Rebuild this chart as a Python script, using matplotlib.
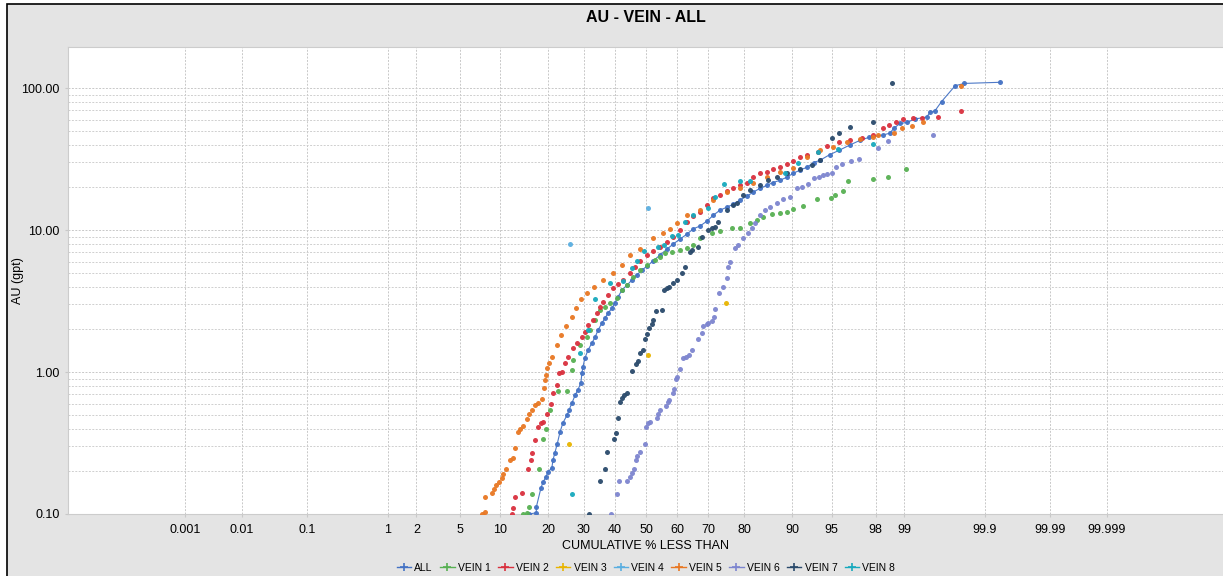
import numpy as np
import matplotlib.pyplot as plt
from matplotlib.lines import Line2D
from matplotlib.patches import Rectangle
from statistics import NormalDist

# ---- data (cumulative % less than, AU gpt) ----
all_pct = [15.6, 17.2, 17.2, 18.3, 18.8, 19.5, 20.0, 21.0, 21.3, 21.8,
           22.4, 23.2, 24.0, 25.2, 25.7, 26.6, 27.5, 28.3, 29.2, 29.5, 29.8,
           30.4, 31.4, 32.6, 33.6, 34.6, 35.8, 36.8, 37.8, 39.1, 40.0,
           41.0, 42.4, 44.0, 45.6, 47.2, 48.8, 50.3, 52.1, 54.3, 56.6,
           58.6, 60.9, 63.2, 65.2, 67.4, 69.6, 71.4, 73.4, 75.4, 77.1,
           79.0, 80.8, 82.2, 83.8, 85.3, 86.5, 87.9, 89.1, 90.1, 91.2,
           92.2, 93.0, 93.8, 94.8, 95.7, 96.5, 97.2, 97.7, 98.3, 98.57,
           98.7, 98.88, 99.06, 99.23, 99.44, 99.49, 99.55, 99.63, 99.75, 99.81,
           99.94]
all_au = [0.10, 0.102, 0.112, 0.153, 0.168, 0.182, 0.198, 0.211, 0.24, 0.27,
          0.31, 0.38, 0.44, 0.50, 0.54, 0.61, 0.69, 0.75, 0.84, 0.98, 1.08,
          1.25, 1.43, 1.60, 1.76, 1.98, 2.21, 2.40, 2.60, 2.82, 3.06,
          3.37, 3.78, 4.10, 4.44, 4.82, 5.23, 5.58, 6.05, 6.66, 7.33,
          7.96, 8.64, 9.38, 10.2, 10.7, 11.6, 12.7, 13.8, 14.5, 15.2,
          16.3, 17.4, 18.5, 19.7, 20.7, 21.6, 22.5, 23.6, 25.1, 26.5,
          27.8, 29.9, 31.1, 34.0, 36.6, 39.7, 43.0, 45.1, 46.7, 48.2,
          52.2, 56.4, 57.3, 60.6, 62.6, 67.7, 68.8, 80.5, 104, 108,
          110]

v1_pct = [14.3, 15.2, 15.6, 16.3, 17.9, 18.8, 19.5, 20.5, 22.7, 25.2,
          26.6, 26.9, 28.9, 31.1, 32.0, 33.6, 35.2, 36.8, 38.4, 40.7,
          42.4, 44.0, 45.9, 48.2, 50.3, 52.7, 54.3, 55.9, 58.2, 60.9,
          63.2, 65.2, 67.4, 71.1, 73.4, 76.8, 79.0, 81.5, 83.1, 84.4,
          86.3, 87.9, 89.1, 90.1, 91.6, 93.4, 94.9, 95.3, 96.0, 96.4,
          97.9, 98.5, 99.04]
v1_au = [0.10, 0.102, 0.112, 0.139, 0.207, 0.34, 0.40, 0.54, 0.735, 0.735,
         1.03, 1.21, 1.55, 1.76, 1.98, 2.32, 2.73, 2.87, 3.06, 3.32,
         3.78, 4.10, 4.66, 5.23, 5.67, 6.15, 6.45, 6.87, 6.98, 7.23,
         7.47, 7.84, 8.8, 9.5, 9.8, 10.3, 10.4, 11.2, 11.8, 12.3,
         13.0, 13.2, 13.4, 14.0, 14.7, 16.5, 16.8, 17.7, 18.8, 22.1,
         22.8, 23.6, 26.9]

v2_pct = [12.2, 12.4, 12.7, 14.1, 15.4, 16.1, 16.3, 17.0, 17.6, 18.3,
          18.8, 19.8, 20.8, 21.3, 22.4, 22.9, 23.8, 24.6, 25.4, 26.8,
          28.0, 29.5, 30.4, 31.4, 33.0, 34.2, 35.2, 36.2, 37.8, 39.4,
          41.0, 42.7, 45.0, 46.6, 48.2, 50.3, 52.1, 54.3, 56.6, 58.6,
          60.9, 63.2, 65.2, 67.4, 69.6, 71.4, 73.4, 75.4, 77.1, 79.0,
          80.8, 82.2, 83.8, 85.3, 86.5, 87.9, 89.1, 90.1, 91.2, 92.2,
          93.5, 94.5, 95.7, 96.5, 97.3, 97.9, 98.3, 98.53, 98.76, 98.96,
          99.19, 99.36, 99.59, 99.79]
v2_au = [0.10, 0.11, 0.132, 0.141, 0.207, 0.24, 0.27, 0.33, 0.41, 0.44,
         0.445, 0.51, 0.60, 0.71, 0.81, 0.98, 1.0, 1.16, 1.28, 1.48,
         1.6, 1.76, 1.91, 2.14, 2.32, 2.60, 2.87, 3.11, 3.49, 3.9,
         4.17, 4.44, 4.98, 5.49, 6.05, 6.66, 7.1, 7.6, 8.2, 8.9,
         10.0, 11.4, 12.5, 13.4, 15.0, 16.8, 17.7, 18.8, 19.7, 20.7,
         21.6, 23.6, 25.1, 25.5, 26.9, 27.8, 29.3, 30.6, 32.5, 33.6,
         35.4, 39.1, 41.5, 43.0, 44.4, 46.7, 52.2, 54.9, 57.5, 60.6,
         61.5, 61.5, 62.6, 69]

v3_pct = [25.7, 50.7, 75.1]
v3_au = [0.31, 1.32, 3.06]

v4_pct = [26.0, 50.7]
v4_au = [8.0, 14.3]

v5_pct = [7.45, 7.8, 7.9, 8.8, 9.2, 9.5, 9.9, 10.4, 10.6, 11.1,
          11.8, 12.4, 12.7, 13.3, 13.7, 14.3, 15.2, 15.6, 16.3, 17.0,
          17.6, 18.6, 19.1, 19.3, 19.5, 19.8, 20.3, 21.0, 22.4, 23.5,
          24.9, 26.6, 27.7, 29.2, 31.0, 33.3, 36.2, 39.4, 42.4, 45.0,
          48.2, 52.1, 55.3, 57.6, 59.9, 63.2, 67.4, 71.4, 75.4, 79.0,
          82.2, 85.3, 87.9, 90.1, 92.2, 93.8, 95.1, 96.3, 97.2, 97.9,
          98.1, 98.7, 98.93, 99.17, 99.38, 99.79]
v5_au = [0.10, 0.103, 0.132, 0.141, 0.15, 0.16, 0.168, 0.18, 0.19, 0.207,
         0.24, 0.25, 0.29, 0.38, 0.40, 0.42, 0.47, 0.51, 0.54, 0.59,
         0.61, 0.65, 0.77, 0.88, 0.95, 1.07, 1.16, 1.28, 1.55, 1.82,
         2.11, 2.44, 2.82, 3.26, 3.6, 3.97, 4.44, 4.98, 5.67, 6.66,
         7.4, 8.8, 9.5, 10.2, 11.2, 12.7, 13.8, 16.3, 18.5, 19.7,
         21.6, 23.6, 25.5, 27.6, 32.5, 36.6, 38.3, 41.5, 43.7, 45.1,
         46.7, 48.2, 52.2, 54.3, 57.5, 104]

v6_pct = [38.7, 40.7, 41.4, 44.0, 45.0, 45.6, 46.3, 46.9, 47.2, 48.2,
          49.8, 50.1, 50.7, 51.2, 53.4, 53.7, 54.3, 56.3, 56.9, 57.3,
          58.6, 58.9, 59.6, 59.9, 60.9, 61.9, 62.9, 63.9, 64.8, 66.8,
          68.0, 68.3, 69.6, 69.9, 71.1, 71.7, 72.0, 73.1, 74.3, 75.4,
          75.7, 76.3, 77.7, 78.5, 79.8, 81.0, 82.0, 82.7, 83.8, 84.9,
          85.9, 87.3, 88.4, 89.6, 90.7, 91.5, 92.3, 93.0, 93.6, 94.1,
          94.5, 95.0, 95.4, 95.9, 96.6, 97.1, 98.1, 98.5, 99.53]
v6_au = [0.10, 0.139, 0.171, 0.171, 0.182, 0.194, 0.207, 0.24, 0.256, 0.273,
         0.31, 0.41, 0.44, 0.445, 0.475, 0.51, 0.54, 0.58, 0.62, 0.635,
         0.71, 0.76, 0.89, 0.92, 1.05, 1.25, 1.28, 1.32, 1.43, 1.71,
         1.88, 2.11, 2.18, 2.21, 2.28, 2.44, 2.77, 3.6, 3.97, 4.59,
         5.49, 5.96, 7.47, 7.84, 8.8, 9.5, 10.3, 11.2, 12.7, 13.8,
         14.5, 15.5, 16.5, 17.0, 19.7, 20.0, 21.3, 23.2, 23.6, 24.4,
         24.8, 25.1, 27.8, 29.3, 30.6, 31.6, 37.8, 42.3, 46.7]

v7_pct = [31.7, 35.2, 36.8, 37.5, 39.7, 40.4, 41.0, 41.7, 42.4, 43.0,
          44.0, 45.6, 46.9, 47.6, 48.2, 49.2, 49.8, 50.3, 50.9, 51.8,
          52.1, 53.1, 55.0, 55.6, 56.6, 57.3, 58.6, 59.9, 61.5, 62.6,
          64.2, 64.8, 66.8, 68.0, 69.9, 71.1, 72.0, 72.8, 75.4, 77.1,
          78.2, 79.8, 81.5, 83.8, 85.5, 87.3, 89.1, 91.2, 92.8, 93.8,
          95.0, 95.7, 96.5, 97.9, 98.64]
v7_au = [0.10, 0.171, 0.207, 0.273, 0.34, 0.37, 0.475, 0.615, 0.656, 0.69,
         0.71, 1.02, 1.14, 1.20, 1.36, 1.43, 1.71, 1.85, 2.04, 2.18,
         2.32, 2.69, 2.73, 3.78, 3.9, 3.97, 4.23, 4.44, 4.98, 5.49,
         6.98, 7.23, 7.6, 8.9, 10.0, 10.4, 10.5, 11.4, 13.8, 15.0,
         15.5, 17.7, 19.1, 20.7, 22.5, 23.6, 25.1, 26.9, 28.8, 31.1,
         44.4, 48.2, 53.1, 57.5, 108]

v8_pct = [26.6, 28.9, 31.4, 33.6, 38.4, 42.7, 45.6, 47.2, 49.5, 53.7,
          55.6, 58.2, 60.2, 62.6, 65.2, 69.9, 72.0, 74.6, 79.0, 81.5, 88.8,
          90.9, 93.5, 95.6, 97.9]
v8_au = [0.139, 1.36, 1.98, 3.26, 4.23, 4.37, 5.40, 6.05, 7.1, 7.6,
         7.84, 9.07, 9.2, 11.4, 12.7, 14.3, 17.2, 21.3, 22.1, 22.1, 25.1,
         29.8, 35.4, 37.2, 40.3]

names = ["ALL", "VEIN 1", "VEIN 2", "VEIN 3", "VEIN 4", "VEIN 5", "VEIN 6", "VEIN 7", "VEIN 8"]
colors = ["#4472c4", "#57b052", "#d9303e", "#e8b400", "#5aaee0", "#e87722", "#7d85cf", "#2a4a6b", "#17a9bd"]
series = [(all_pct, all_au), (v1_pct, v1_au), (v2_pct, v2_au), (v3_pct, v3_au), (v4_pct, v4_au),
          (v5_pct, v5_au), (v6_pct, v6_au), (v7_pct, v7_au), (v8_pct, v8_au)]

xticks = [0.001, 0.01, 0.1, 1, 2, 5, 10, 20, 30, 40, 50, 60, 70, 80, 90, 95, 98, 99, 99.9, 99.99, 99.999]
xticklabels = ["0.001", "0.01", "0.1", "1", "2", "5", "10", "20", "30", "40", "50", "60", "70",
               "80", "90", "95", "98", "99", "99.9", "99.99", "99.999"]

# probability scale (normal quantile, slightly compressed at the tails)
nd = NormalDist()
POW = 0.953


def fwd(p):
    p = np.asarray(p, dtype=float)
    p = np.where(np.isfinite(p), p, 50.0)
    p = np.clip(p, 1e-10, 100 - 1e-10)
    z = np.array([nd.inv_cdf(v / 100.0) for v in p.ravel()]).reshape(p.shape)
    return np.sign(z) * np.abs(z) ** POW


def inv(u):
    u = np.asarray(u, dtype=float)
    u = np.where(np.isfinite(u), u, 0.0)
    z = np.sign(u) * np.abs(u) ** (1 / POW)
    return np.array([nd.cdf(v) * 100.0 for v in z.ravel()]).reshape(u.shape)


plt.rcParams['font.family'] = ['Liberation Sans', 'DejaVu Sans']

W, H = 1223, 576
fig = plt.figure(figsize=(W / 100, H / 100), dpi=100)
fig.patch.set_facecolor('white')
fig.patches.append(Rectangle((7 / W, -0.1), 1.2, 1 - 4 / H + 0.1, transform=fig.transFigure,
                             facecolor='#e4e4e4', edgecolor='black', lw=1.2, zorder=-5))

ax = fig.add_axes([68 / W, 1 - 514 / H, (1224 - 68) / W, (514 - 47) / H])
ax.set_facecolor('white')
ax.set_xscale('function', functions=(fwd, inv))
ax.set_yscale('log')
ax.set_xlim(float(inv(-5.0)), float(inv(5.0)))
ax.set_ylim(0.1, 195)

ax.set_xticks(xticks)
ax.set_xticklabels(xticklabels)
ax.xaxis.set_minor_locator(plt.NullLocator())
ax.set_yticks([0.1, 1, 10, 100])
ax.set_yticklabels(["0.10", "1.00", "10.00", "100.00"])
ax.tick_params(axis='both', which='major', labelsize=9, length=2, color='#c8c8c8', pad=5)
ax.tick_params(axis='y', which='minor', length=0)
ax.tick_params(axis='y', which='major', pad=4)

ax.grid(True, which='major', axis='both', color='#c8c8c8', ls=(0, (2, 1.5)), lw=0.7)
ax.grid(True, which='minor', axis='y', color='#cfcfcf', ls=(0, (2, 1.5)), lw=0.7)
ax.set_axisbelow(True)
for s in ['top', 'left', 'bottom']:
    ax.spines[s].set_color('#cccccc')
ax.spines['right'].set_visible(False)

for i, ((px, au), c) in enumerate(zip(series, colors)):
    lw = 0.8 if i == 0 else 0
    ax.plot(px, au, color=c, lw=lw, marker='o', ms=3.6, mec='none', mfc=c, alpha=0.95, zorder=3)

ax.set_xlabel("CUMULATIVE % LESS THAN", fontsize=9, labelpad=3)
fig.text(18 / W, 1 - 281 / H, "AU (gpt)", rotation=90, ha='center', va='center', fontsize=9)
fig.text(646 / W, 1 - 17 / H, "AU - VEIN - ALL", ha='center', va='center',
         fontsize=11.5, fontweight='bold')

handles = [Line2D([], [], color=c, lw=1.0, marker='+', ms=6, mew=1.2) for c in colors]
ax.legend(handles, names, loc='center', bbox_to_anchor=(0.5, -0.1156), ncol=9, frameon=False,
          fontsize=7.5, handlelength=1.4, handletextpad=0.3, columnspacing=0.7)

fig.savefig('out.png', dpi=100)
